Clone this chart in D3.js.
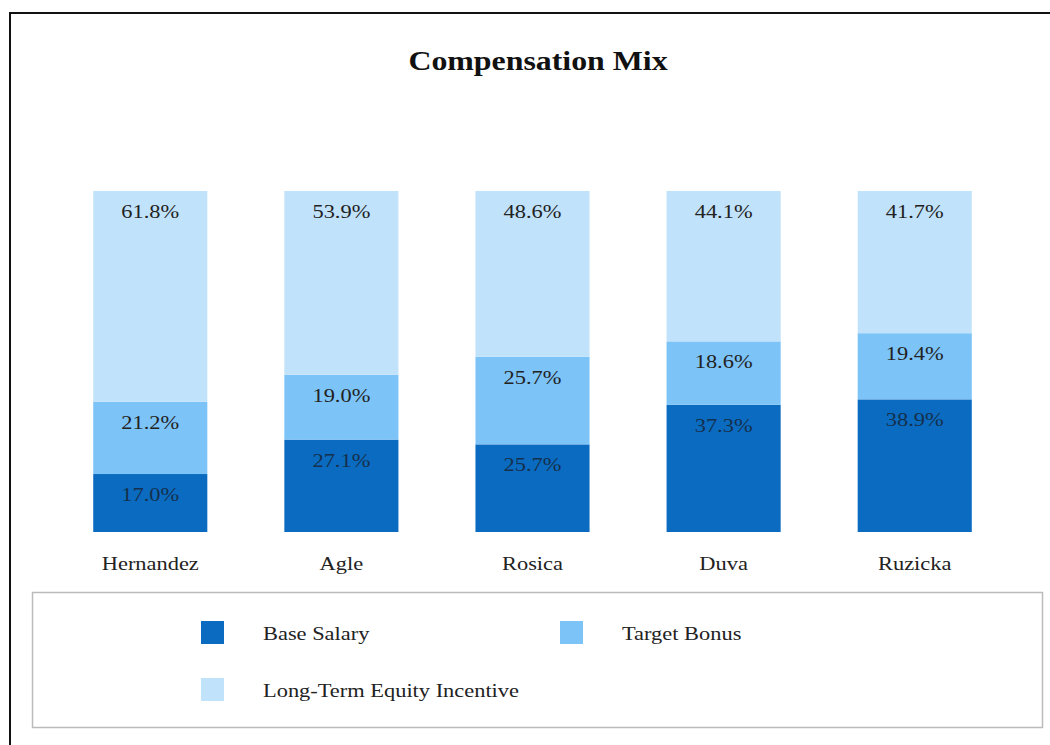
<!DOCTYPE html>
<html>
<head>
<meta charset="utf-8">
<script src="https://cdn.jsdelivr.net/npm/d3@7"></script>
<style>
  body { margin: 0; background: #fff; }
  svg { display: block; font-family: "Liberation Serif", "Times New Roman", serif; }
</style>
</head>
<body>
<div id="chart"></div>
<script>
const names = ['Hernandez', 'Agle', 'Rosica', 'Duva', 'Ruzicka'];
const series = ['Base Salary', 'Target Bonus', 'Long-Term Equity Incentive'];
const baseSalary = [17.0, 27.1, 25.7, 37.3, 38.9];
const targetBonus = [21.2, 19.0, 25.7, 18.6, 19.4];
const equity = [61.8, 53.9, 48.6, 44.1, 41.7];
const colors = ['#0b6bc0', '#7cc3f8', '#c1e2fb'];

const width = 1050, height = 745;
const sx = 1.18; // the source text is drawn a little wide

const svg = d3.select('#chart').append('svg')
  .attr('width', width)
  .attr('height', height);

// outer frame (right/bottom edges run off the picture)
svg.append('rect')
  .attr('x', 10).attr('y', 13)
  .attr('width', width + 20).attr('height', height + 20)
  .attr('fill', '#fff')
  .attr('stroke', '#111')
  .attr('stroke-width', 2);

svg.append('text')
  .attr('transform', `translate(538,70) scale(${sx},1)`)
  .attr('text-anchor', 'middle')
  .attr('font-size', 27)
  .attr('font-weight', 'bold')
  .attr('fill', '#111')
  .text('Compensation Mix');

const rows = names.map((n, i) => ({
  name: n,
  'Base Salary': baseSalary[i],
  'Target Bonus': targetBonus[i],
  'Long-Term Equity Incentive': equity[i]
}));

const stacked = d3.stack().keys(series)(rows);

const x = d3.scaleBand()
  .domain(names)
  .range([55, 1010])
  .paddingInner(0.403)
  .paddingOuter(0.2);

const y = d3.scaleLinear()
  .domain([0, 100])
  .range([532, 191]);

const color = d3.scaleOrdinal().domain(series).range(colors);

const layer = svg.append('g').selectAll('g')
  .data(stacked)
  .join('g')
  .attr('fill', d => color(d.key));

layer.selectAll('rect')
  .data(d => d)
  .join('rect')
  .attr('x', d => x(d.data.name))
  .attr('width', x.bandwidth())
  .attr('y', d => y(d[1]))
  .attr('height', d => y(d[0]) - y(d[1]));

layer.selectAll('text')
  .data(d => d.map(v => ({ v, key: d.key })))
  .join('text')
  .attr('transform', d => `translate(${x(d.v.data.name) + x.bandwidth() / 2},${y(d.v[1]) + 27}) scale(${sx},1)`)
  .attr('text-anchor', 'middle')
  .attr('font-size', 19)
  .attr('fill', d => d.key === 'Base Salary' ? '#14304d' : '#222')
  .text(d => d.v.data[d.key].toFixed(1) + '%');

// category axis
const xAxis = svg.append('g')
  .attr('transform', 'translate(0,532)')
  .call(d3.axisBottom(x).tickSize(0).tickPadding(25));
xAxis.select('.domain').remove();
xAxis.selectAll('text')
  .attr('transform', `scale(${sx},1)`)
  .attr('font-family', '"Liberation Serif", serif')
  .attr('font-size', 19)
  .attr('fill', '#222');

// legend
svg.append('rect')
  .attr('x', 32.5).attr('y', 592.5)
  .attr('width', 1010).attr('height', 135)
  .attr('fill', 'none')
  .attr('stroke', '#bbb')
  .attr('stroke-width', 1.5);

const legendPos = [[201, 621], [560, 621], [201, 678]];
const legend = svg.append('g').selectAll('g')
  .data(series)
  .join('g')
  .attr('transform', (d, i) => `translate(${legendPos[i][0]},${legendPos[i][1]})`);

legend.append('rect')
  .attr('width', 23).attr('height', 23)
  .attr('fill', d => color(d));

legend.append('text')
  .attr('transform', `translate(62,19) scale(${sx},1)`)
  .attr('font-size', 19)
  .attr('fill', '#222')
  .text(d => d);
</script>
</body>
</html>
